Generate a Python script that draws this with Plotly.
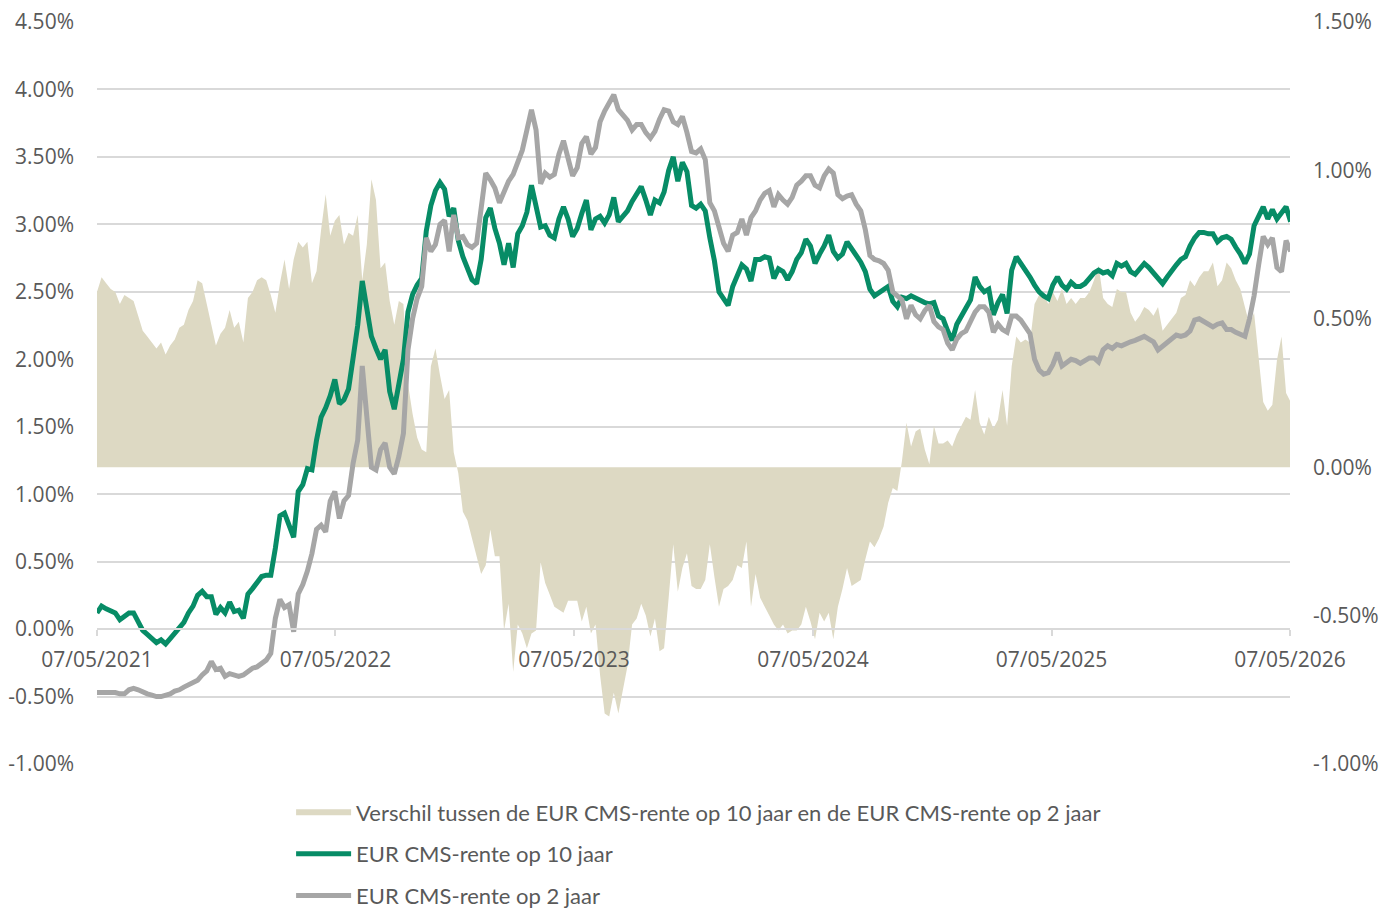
import numpy as np
import pandas as pd
import plotly.graph_objects as go

# ---- data (weekly observations, values in %) ----
start_date = "2021-05-07"
n_obs = 262
dates = pd.date_range(start_date, periods=n_obs, freq="7D")

rate10 = [
    0.12, 0.17, 0.15, 0.13, 0.12, 0.07, 0.10, 0.12, 0.12, 0.06,
    -0.01, -0.04, -0.07, -0.10, -0.08, -0.11, -0.07, -0.03, 0.02, 0.05,
    0.12, 0.17, 0.25, 0.28, 0.24, 0.24, 0.11, 0.16, 0.12, 0.20,
    0.13, 0.14, 0.08, 0.26, 0.30, 0.35, 0.39, 0.40, 0.40, 0.60,
    0.84, 0.86, 0.78, 0.68, 1.02, 1.07, 1.19, 1.18, 1.40, 1.57,
    1.64, 1.73, 1.85, 1.67, 1.70, 1.78, 2.01, 2.25, 2.58, 2.35,
    2.17, 2.08, 2.00, 2.07, 1.76, 1.63, 1.84, 2.00, 2.35, 2.48,
    2.55, 2.60, 2.95, 3.14, 3.25, 3.31, 3.26, 3.06, 3.12, 2.88,
    2.76, 2.67, 2.59, 2.56, 2.74, 3.05, 3.12, 2.97, 2.86, 2.70,
    2.86, 2.68, 2.93, 2.99, 3.09, 3.29, 3.15, 2.98, 2.99, 2.92,
    2.90, 3.04, 3.13, 3.04, 2.91, 2.97, 3.08, 3.18, 2.96, 3.04,
    3.06, 3.01, 3.07, 3.20, 3.02, 3.06, 3.10, 3.17, 3.23, 3.28,
    3.18, 3.07, 3.18, 3.16, 3.24, 3.40, 3.50, 3.32, 3.46, 3.39,
    3.14, 3.12, 3.15, 3.10, 2.90, 2.73, 2.50, 2.45, 2.40, 2.54,
    2.61, 2.70, 2.67, 2.58, 2.74, 2.74, 2.76, 2.75, 2.60, 2.67,
    2.65, 2.59, 2.65, 2.74, 2.79, 2.89, 2.84, 2.71, 2.78, 2.84,
    2.92, 2.80, 2.75, 2.78, 2.87, 2.82, 2.76, 2.72, 2.65, 2.52,
    2.47, 2.49, 2.51, 2.54, 2.43, 2.39, 2.46, 2.45, 2.47, 2.45,
    2.43, 2.42, 2.41, 2.42, 2.32, 2.30, 2.21, 2.14, 2.26, 2.33,
    2.38, 2.44, 2.61, 2.54, 2.50, 2.52, 2.33, 2.42, 2.48, 2.34,
    2.66, 2.76, 2.71, 2.67, 2.61, 2.55, 2.50, 2.47, 2.45, 2.55,
    2.61, 2.55, 2.52, 2.57, 2.54, 2.54, 2.56, 2.60, 2.64, 2.66,
    2.64, 2.65, 2.62, 2.71, 2.69, 2.71, 2.65, 2.63, 2.67, 2.71,
    2.68, 2.64, 2.61, 2.56, 2.61, 2.66, 2.70, 2.74, 2.76, 2.84,
    2.90, 2.94, 2.94, 2.93, 2.93, 2.87, 2.90, 2.91, 2.89, 2.83,
    2.78, 2.71, 2.78, 2.99, 3.07, 3.13, 3.04, 3.11, 3.04, 3.09,
    3.13, 3.02,
]

rate2 = [
    -0.47, -0.47, -0.47, -0.47, -0.47, -0.48, -0.48, -0.45, -0.44, -0.45,
    -0.47, -0.48, -0.49, -0.50, -0.50, -0.49, -0.48, -0.46, -0.45, -0.43,
    -0.41, -0.39, -0.38, -0.34, -0.31, -0.24, -0.30, -0.29, -0.35, -0.33,
    -0.34, -0.35, -0.34, -0.31, -0.29, -0.28, -0.25, -0.23, -0.18, 0.08,
    0.22, 0.16, 0.18, -0.02, 0.26, 0.33, 0.43, 0.56, 0.74, 0.77,
    0.72, 0.95, 1.02, 0.82, 0.95, 0.99, 1.23, 1.40, 1.95, 1.60,
    1.20, 1.18, 1.33, 1.38, 1.20, 1.15, 1.28, 1.45, 2.07, 2.30,
    2.45, 2.54, 2.90, 2.80, 2.85, 3.00, 3.03, 2.80, 3.07, 2.90,
    2.91, 2.85, 2.83, 2.86, 3.10, 3.38, 3.33, 3.27, 3.16, 3.25,
    3.32, 3.37, 3.46, 3.55, 3.70, 3.85, 3.70, 3.30, 3.38, 3.35,
    3.37, 3.52, 3.62, 3.49, 3.36, 3.42, 3.60, 3.65, 3.52, 3.57,
    3.76, 3.84, 3.91, 3.96, 3.85, 3.81, 3.77, 3.70, 3.74, 3.74,
    3.68, 3.64, 3.69, 3.78, 3.85, 3.84, 3.76, 3.74, 3.80, 3.68,
    3.54, 3.53, 3.56, 3.48, 3.16, 3.10, 2.97, 2.86, 2.80, 2.92,
    2.94, 3.04, 2.92, 3.05, 3.10, 3.18, 3.23, 3.25, 3.13, 3.22,
    3.18, 3.15, 3.20, 3.29, 3.32, 3.36, 3.36, 3.29, 3.27, 3.36,
    3.41, 3.38, 3.22, 3.19, 3.21, 3.22, 3.15, 3.10, 2.96, 2.77,
    2.74, 2.73, 2.71, 2.66, 2.50, 2.47, 2.44, 2.30, 2.40, 2.33,
    2.30, 2.36, 2.40, 2.28, 2.24, 2.22, 2.12, 2.07, 2.15, 2.19,
    2.21, 2.28, 2.35, 2.39, 2.39, 2.35, 2.20, 2.26, 2.22, 2.20,
    2.32, 2.32, 2.29, 2.24, 2.19, 2.00, 1.92, 1.89, 1.90, 1.96,
    2.05, 1.95, 1.97, 2.00, 1.99, 1.97, 1.99, 2.01, 2.01, 1.98,
    2.07, 2.10, 2.08, 2.11, 2.10, 2.12, 2.13, 2.14, 2.16, 2.17,
    2.15, 2.13, 2.07, 2.10, 2.13, 2.16, 2.18, 2.17, 2.18, 2.21,
    2.29, 2.30, 2.28, 2.27, 2.24, 2.26, 2.27, 2.22, 2.22, 2.20,
    2.18, 2.17, 2.30, 2.47, 2.70, 2.91, 2.85, 2.90, 2.68, 2.65,
    2.88, 2.80,
]

# spread (10y minus 2y), right axis
spread = np.round(np.array(rate10) - np.array(rate2), 2)

series_names = [
    "Verschil tussen de EUR CMS-rente op 10 jaar en de EUR CMS-rente op 2 jaar",
    "EUR CMS-rente op 10 jaar",
    "EUR CMS-rente op 2 jaar",
]

x_tick_dates = ["2021-05-07", "2022-05-07", "2023-05-07",
                "2024-05-07", "2025-05-07", "2026-05-07"]
x_tick_labels = ["07/05/2021", "07/05/2022", "07/05/2023",
                 "07/05/2024", "07/05/2025", "07/05/2026"]
left_ticks = [-1.0, -0.5, 0.0, 0.5, 1.0, 1.5, 2.0, 2.5, 3.0, 3.5, 4.0, 4.5]
left_labels = ["-1.00%", "-0.50%", "0.00%", "0.50%", "1.00%", "1.50%",
               "2.00%", "2.50%", "3.00%", "3.50%", "4.00%", "4.50%"]
right_ticks = [-1.0, -0.5, 0.0, 0.5, 1.0, 1.5]
right_labels = ["-1.00%", "-0.50%", "0.00%", "0.50%", "1.00%", "1.50%"]

# ---- styles ----
AREA_COLOR = "#DDD9C3"
GREEN = "#078C66"
GREY = "#A6A6A6"
GRID = "#D9D9D9"
TEXT = "#595959"
tick_font = dict(family="Open Sans", size=21, color=TEXT)
legend_font = dict(family="Lato", size=22, color=TEXT)

fig = go.Figure()
fig.add_trace(go.Scatter(
    x=dates, y=spread, name=series_names[0], mode="none",
    fill="tozeroy", fillcolor=AREA_COLOR, yaxis="y", legendgroup="g1",
))
fig.add_trace(go.Scatter(
    x=dates, y=rate10, name=series_names[1], mode="lines",
    line=dict(color=GREEN, width=5), yaxis="y2", legendgroup="g2",
))
fig.add_trace(go.Scatter(
    x=dates, y=rate2, name=series_names[2], mode="lines",
    line=dict(color=GREY, width=5), yaxis="y2", legendgroup="g3",
))

W, H = 1396, 917
ML, MR, MT, MB = 97, 106, 22, 153
x_axis_pos = (0 - (-1.0)) / (4.5 - (-1.0))  # left-axis zero level

fig.update_layout(
    width=W, height=H,
    margin=dict(l=ML, r=MR, t=MT, b=MB, pad=0, autoexpand=False),
    paper_bgcolor="white", plot_bgcolor="white",
    showlegend=True,
    legend=dict(
        orientation="v", x=0.1627, xanchor="left", y=-0.037, yanchor="top",
        font=legend_font, tracegroupgap=10, bgcolor="rgba(0,0,0,0)",
        traceorder="grouped", itemwidth=55,
    ),
    xaxis=dict(
        type="date", range=["2021-05-07", "2026-05-07"],
        anchor="free", position=x_axis_pos, automargin=False,
        tickvals=x_tick_dates, ticktext=x_tick_labels,
        ticks="outside", ticklen=6, tickwidth=1.5, tickcolor=GRID,
        showline=True, linecolor=GRID, linewidth=1.5,
        showgrid=False, zeroline=False, tickfont=tick_font,
        ticklabelstandoff=6,
    ),
    yaxis=dict(
        range=[-1.0, 1.5], side="right", automargin=False,
        tickvals=right_ticks, ticktext=right_labels,
        showgrid=False, zeroline=False, showline=False,
        tickfont=tick_font, ticklabelstandoff=22,
    ),
    yaxis2=dict(
        range=[-1.0, 4.5], side="left", overlaying="y", automargin=False,
        tickvals=left_ticks, ticktext=left_labels,
        showgrid=True, gridcolor=GRID, gridwidth=1.5,
        zeroline=False, showline=False,
        tickfont=tick_font, ticklabelstandoff=22,
    ),
)

fig.write_html("out.html", config={"displayModeBar": False},
               post_script="document.body.style.margin='0';")
